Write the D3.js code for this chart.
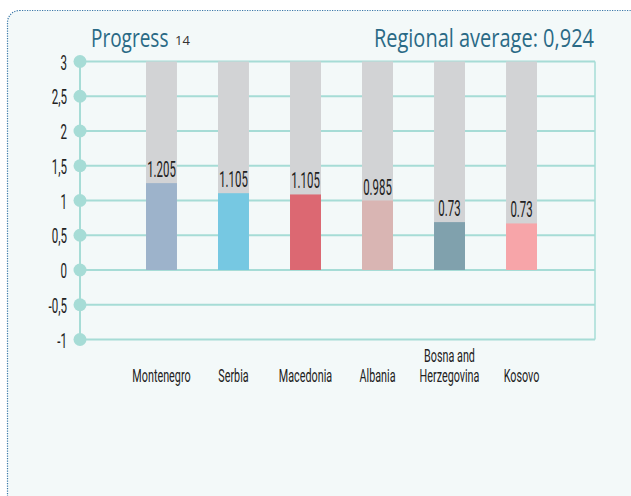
<!DOCTYPE html>
<html>
<head>
<meta charset="utf-8">
<script src="https://cdn.jsdelivr.net/npm/d3@7"></script>
<style>
  html, body { margin: 0; padding: 0; background: #fff; }
  svg { display: block; }
</style>
</head>
<body>
<div id="chart"></div>
<script>
// data
const countries = ['Montenegro', 'Serbia', 'Macedonia', 'Albania', 'Bosna and\nHerzegovina', 'Kosovo'];
const barValues = [1.25, 1.105, 1.087, 1.0, 0.689, 0.67];
const valueLabels = ['1.205', '1.105', '1.105', '0.985', '0.73', '0.73'];
const barColors = ['#9db3cb', '#76c8e2', '#dc6872', '#d9b5b3', '#80a1ad', '#f7a5a9'];
const yTicks = [3, 2.5, 2, 1.5, 1, 0.5, 0, -0.5, -1];
const yTickLabels = ['3', '2,5', '2', '1,5', '1', '0,5', '0', '-0,5', '-1'];
const regionalAvg = '0,924';

const W = 631, H = 496;
const narrow = "Roboto, 'DejaVu Sans', sans-serif";
const grid = '#a6dcd6';

const svg = d3.select('#chart').append('svg').attr('width', W).attr('height', H);

// panel with dotted border
svg.append('rect')
  .attr('x', 7.5).attr('y', 10.5).attr('width', W + 20).attr('height', H + 20)
  .attr('rx', 12)
  .attr('fill', '#f3f9f9')
  .attr('stroke', '#3a78a8').attr('stroke-width', 1.2)
  .attr('stroke-dasharray', '1.2,1.3');

const y = d3.scaleLinear().domain([-1, 3]).range([339.5, 61.5]);
const x = d3.scaleBand().domain(countries).range([146, 537]).paddingInner(0.57).paddingOuter(0);
const axisX = 80, rightX = 595;

// gridlines
svg.append('g').selectAll('line')
  .data(yTicks)
  .join('line')
  .attr('x1', axisX).attr('x2', rightX)
  .attr('y1', d => y(d)).attr('y2', d => y(d))
  .attr('stroke', grid).attr('stroke-width', 2);

svg.append('line')
  .attr('x1', axisX).attr('x2', axisX)
  .attr('y1', y(3)).attr('y2', y(-1))
  .attr('stroke', grid).attr('stroke-width', 2);
svg.append('line')
  .attr('x1', rightX).attr('x2', rightX)
  .attr('y1', y(3)).attr('y2', y(-1))
  .attr('stroke', grid).attr('stroke-width', 1.5);

svg.append('g').selectAll('circle')
  .data(yTicks)
  .join('circle')
  .attr('cx', axisX).attr('cy', d => y(d)).attr('r', 6.5)
  .attr('fill', grid);

// y tick labels (condensed look via horizontal squeeze)
svg.append('g').selectAll('text')
  .data(yTicks)
  .join('text')
  .attr('transform', d => `translate(67,${y(d) + 8}) scale(0.55,1)`)
  .attr('text-anchor', 'end')
  .style('font-family', narrow).style('font-size', '21px')
  .attr('fill', '#222')
  .text((d, i) => yTickLabels[i]);

// background bars up to 3
svg.append('g').selectAll('rect')
  .data(countries)
  .join('rect')
  .attr('x', d => x(d)).attr('width', x.bandwidth())
  .attr('y', y(3)).attr('height', y(0) - y(3))
  .attr('fill', '#d2d3d5');

// value bars
svg.append('g').selectAll('rect')
  .data(countries)
  .join('rect')
  .attr('x', d => x(d)).attr('width', x.bandwidth())
  .attr('y', (d, i) => y(barValues[i]))
  .attr('height', (d, i) => y(0) - y(barValues[i]))
  .attr('fill', (d, i) => barColors[i]);

// value labels
svg.append('g').selectAll('text')
  .data(countries)
  .join('text')
  .attr('transform', (d, i) => `translate(${x(d) + x.bandwidth() / 2},${y(barValues[i]) - 6}) scale(0.52,1)`)
  .attr('text-anchor', 'middle')
  .style('font-family', narrow).style('font-size', '22px')
  .attr('fill', '#222')
  .text((d, i) => valueLabels[i]);

// category labels
const cat = svg.append('g').selectAll('text')
  .data(countries)
  .join('text')
  .attr('transform', d => `translate(${x(d) + x.bandwidth() / 2},382) scale(0.6,1)`)
  .attr('text-anchor', 'middle')
  .style('font-family', narrow).style('font-size', '18px')
  .attr('fill', '#222');
cat.each(function (d) {
  const lines = d.split('\n');
  d3.select(this).selectAll('tspan')
    .data(lines)
    .join('tspan')
    .attr('x', 0)
    .attr('y', (l, i) => (i - (lines.length - 1)) * 20)
    .text(l => l);
});

// titles
svg.append('text')
  .attr('transform', 'translate(91,47) scale(0.76,1)')
  .style('font-family', "'Open Sans', 'Noto Sans', sans-serif").style('font-size', '25px')
  .attr('fill', '#2a6a86')
  .text('Progress');

svg.append('text')
  .attr('x', 175).attr('y', 45)
  .style('font-family', "'Open Sans', 'Noto Sans', sans-serif").style('font-size', '13px')
  .attr('fill', '#333')
  .text('14');

svg.append('text')
  .attr('transform', 'translate(594,47) scale(0.8,1)')
  .attr('text-anchor', 'end')
  .style('font-family', "'Open Sans', 'Noto Sans', sans-serif").style('font-size', '25px')
  .attr('fill', '#2a6a86')
  .text(`Regional average: ${regionalAvg}`);
</script>
</body>
</html>
